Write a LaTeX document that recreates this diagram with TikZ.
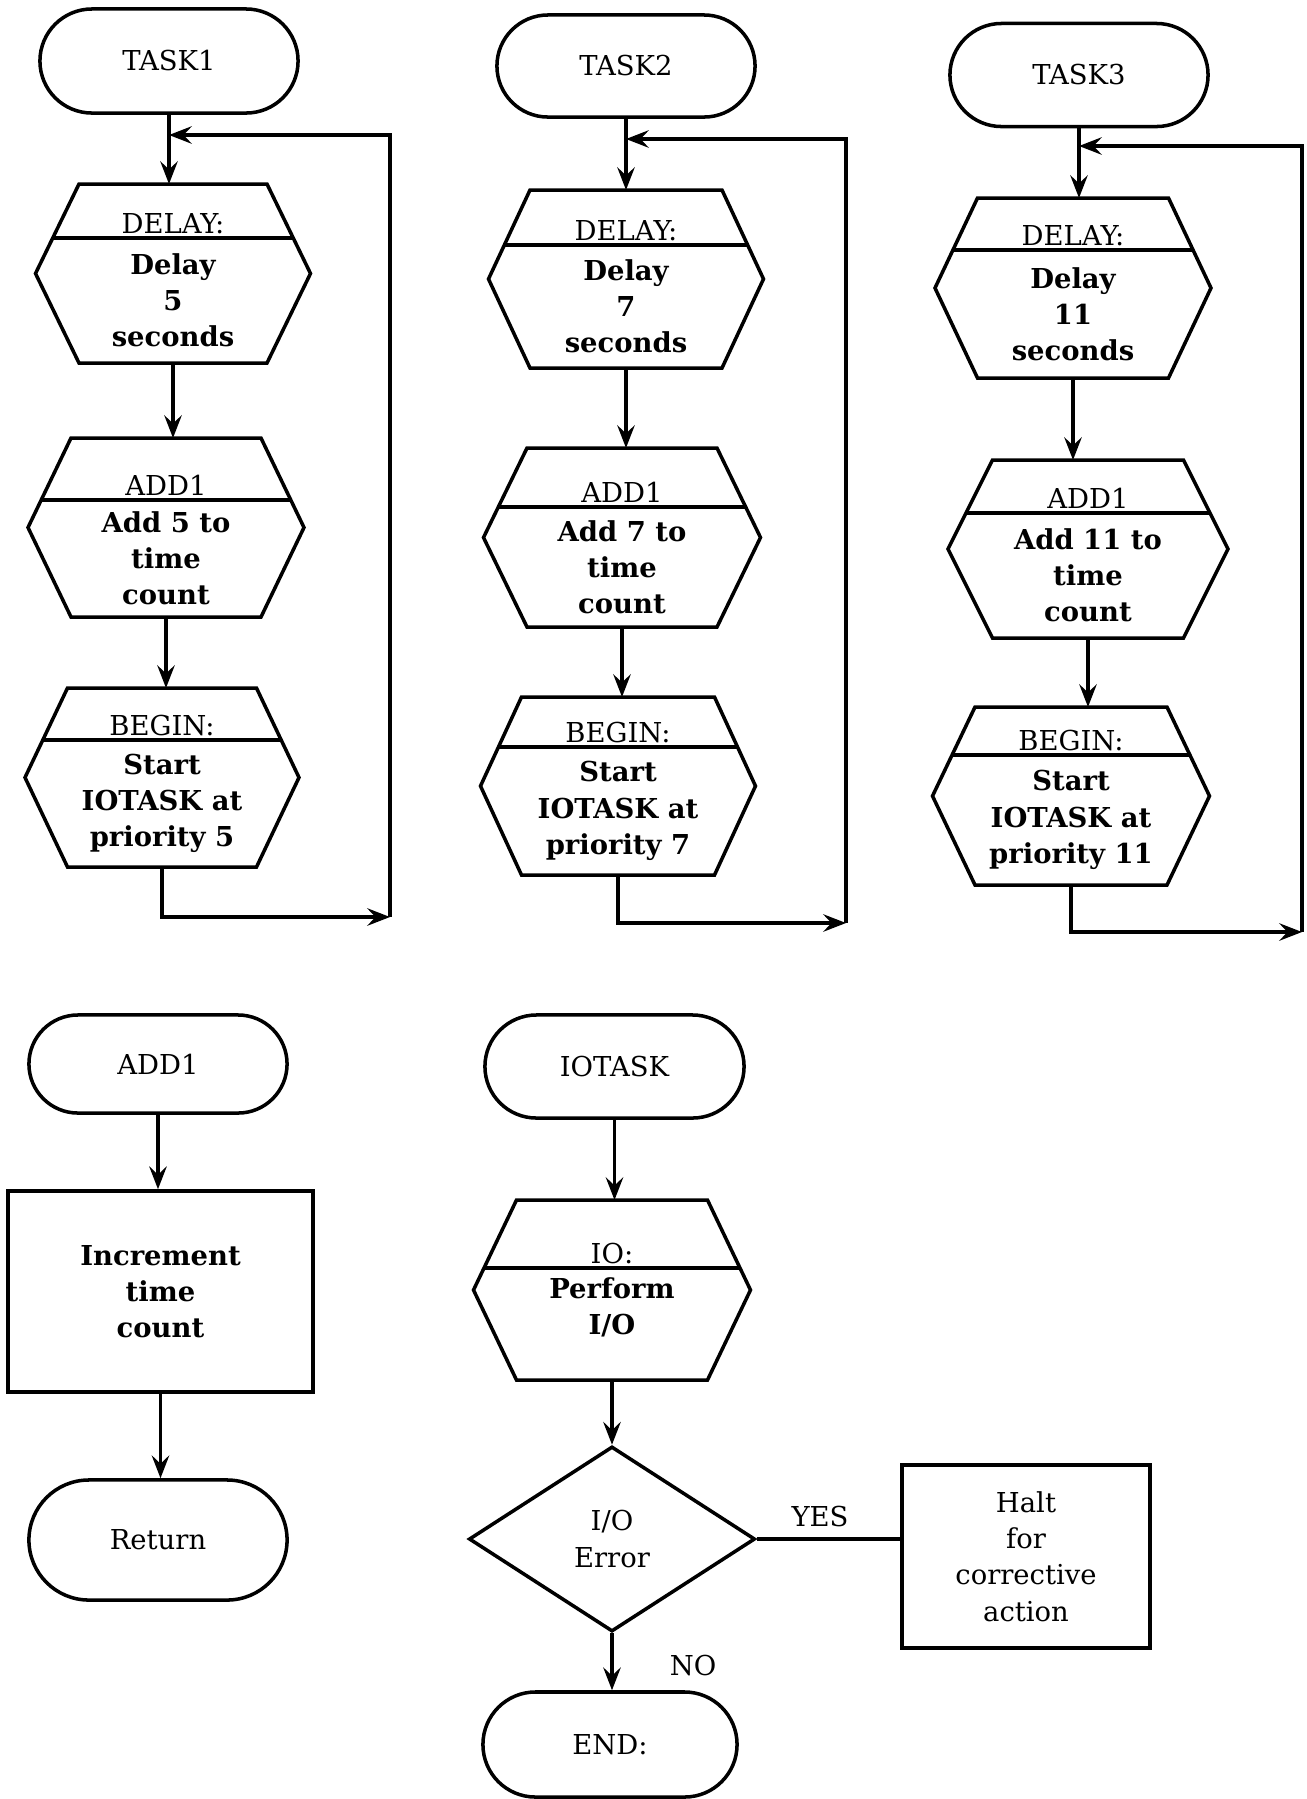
\documentclass[tikz,border=0pt]{standalone}
\usepackage{fontspec}
\setmainfont{DejaVu Serif}
\usetikzlibrary{shapes.geometric,shapes.misc,arrows.meta,calc}

\tikzset{
  basefont/.style={font=\fontsize{7.8}{10.3}\selectfont},
  shapeline/.style={line width=1pt, line join=miter},
  link/.style={line width=0.9pt},
  arr/.style={line width=0.9pt, -{Stealth[length=6.5pt,width=5pt,inset=2.4pt]}},
  term/.style={rounded rectangle, draw, line width=1pt, inner sep=0pt, basefont},
  hexframe/.style={rectangle, inner sep=0pt, outer sep=0pt},
  headtext/.style={anchor=base, inner sep=0pt, basefont},
  bodytext/.style={align=center, inner sep=0pt, font=\fontsize{7.8}{10.3}\selectfont\bfseries},
  procbox/.style={rectangle, draw, line width=1pt, inner sep=0pt, align=center},
  lbl/.style={inner sep=0pt, basefont},
}

% name, cx, top, bottom, half top width, half middle width, divider y, head, body
\def\hexbodyshift{0}
\newcommand{\hexbox}[9]{%
  \pgfmathsetmacro\hxm{(#3+#4)/2}%
  \pgfmathsetmacro\hxh{#4-#3}%
  \pgfmathsetmacro\hxw{2*#6}%
  \pgfmathsetmacro\hxd{#5+(#6-#5)*(#7-#3)/(\hxm-#3)}%
  \pgfmathsetmacro\hxb{(#7+#4)/2+\hexbodyshift}%
  \node[hexframe, minimum width=\hxw*0.01cm, minimum height=\hxh*0.01cm] (#1) at (#2,\hxm) {};
  \draw[shapeline] (#2-#5,#3) -- (#2+#5,#3) -- (#2+#6,\hxm) -- (#2+#5,#4)
     -- (#2-#5,#4) -- (#2-#6,\hxm) -- cycle;
  \draw[shapeline] (#2-\hxd,#7) -- (#2+\hxd,#7);
  \node[headtext] (#1-head) at (#2,#7-5) {#8};
  \node[bodytext] (#1-body) at (#2,\hxb) {#9};
}

\begin{document}
\begin{tikzpicture}[x=0.01cm,y=-0.01cm]
\useasboundingbox (0,0) rectangle (1307,1799);

% ---------- column 1 ----------
\node[term, minimum width=2.58cm, minimum height=1.04cm] (T1) at (169,61) {TASK1};
\hexbox{D1}{173}{184}{363}{94}{137.5}{238}{DELAY:}{Delay\\5\\seconds}
\hexbox{A1}{166}{438}{617}{95}{138}{500}{ADD1}{Add 5 to\\time\\count}
\hexbox{B1}{162}{688}{867}{94.5}{137}{740}{BEGIN:}{Start\\IOTASK at\\priority 5}
\coordinate (J1) at (169,135);
\coordinate (R1t) at (390,135);
\coordinate (R1b) at (390,917);
\draw[arr] (T1.south) -- (T1.south |- D1.north);
\draw[arr] (D1.south) -- (D1.south |- A1.north);
\draw[arr] (A1.south) -- (A1.south |- B1.north);
\draw[arr] (B1.south) |- (R1b);
\draw[arr] (R1b) -- (R1t) -- (J1);

% ---------- column 2 ----------
\node[term, minimum width=2.58cm, minimum height=1.02cm] (T2) at (626,66) {TASK2};
\hexbox{D2}{626}{190}{368}{96}{137.5}{245}{DELAY:}{Delay\\7\\seconds}
\hexbox{A2}{622}{448}{627}{95}{138.5}{507}{ADD1}{Add 7 to\\time\\count}
\hexbox{B2}{618}{697}{875}{96.5}{137.5}{747}{BEGIN:}{Start\\IOTASK at\\priority 7}
\coordinate (J2) at (626,139);
\coordinate (R2t) at (846,139);
\coordinate (R2b) at (846,923);
\draw[arr] (T2.south) -- (T2.south |- D2.north);
\draw[arr] (D2.south) -- (D2.south |- A2.north);
\draw[arr] (A2.south) -- (A2.south |- B2.north);
\draw[arr] (B2.south) |- (R2b);
\draw[arr] (R2b) -- (R2t) -- (J2);

% ---------- column 3 ----------
\node[term, minimum width=2.58cm, minimum height=1.03cm] (T3) at (1079,75) {TASK3};
\hexbox{D3}{1073}{198}{378}{95.5}{138}{250}{DELAY:}{Delay\\11\\seconds}
\hexbox{A3}{1088}{460}{638}{95.5}{140}{513}{ADD1}{Add 11 to\\time\\count}
\hexbox{B3}{1071}{707}{885}{96}{138.5}{755}{BEGIN:}{Start\\IOTASK at\\priority 11}
\coordinate (J3) at (1079,146);
\coordinate (R3t) at (1302,146);
\coordinate (R3b) at (1302,932);
\draw[arr] (T3.south) -- (T3.south |- D3.north);
\draw[arr] (D3.south) -- (D3.south |- A3.north);
\draw[arr] (A3.south) -- (A3.south |- B3.north);
\draw[arr] (B3.south) |- (R3b);
\draw[arr] (R3b) -- (R3t) -- (J3);

% ---------- ADD1 subroutine ----------
\node[term, minimum width=2.58cm, minimum height=0.98cm] (ADDT) at (158,1064) {ADD1};
\node[procbox, minimum width=3.05cm, minimum height=2.01cm,
      font=\fontsize{7.8}{10.3}\selectfont\bfseries] (INC) at (160.5,1291.5) {Increment\\time\\count};
\node[term, minimum width=2.58cm, minimum height=1.2cm] (RET) at (158,1540) {Return};
\draw[arr] (ADDT.south) -- (ADDT.south |- INC.north);
\draw[arr] (INC.south) -- (INC.south |- RET.north);

% ---------- IOTASK ----------
\node[term, minimum width=2.59cm, minimum height=1.03cm] (IOT) at (614.5,1066.5) {IOTASK};
\def\hexbodyshift{-17}
\hexbox{IO}{612}{1200}{1380}{95.5}{138.5}{1268}{IO:}{Perform\\I/O}
\def\hexbodyshift{0}
\node[diamond, draw, shapeline, aspect=1.546, minimum width=2.86cm, minimum height=1.85cm,
      inner sep=0pt, align=center, basefont] (DEC) at (612,1539) {I/O\\Error};
\node[procbox, minimum width=2.48cm, minimum height=1.83cm, basefont] (HALT) at (1026,1556.5)
      {Halt\\for\\corrective\\action};
\node[term, minimum width=2.54cm, minimum height=1.05cm] (END) at (610,1744.5) {END:};
\draw[arr] (IOT.south) -- (IOT.south |- IO.north);
\draw[arr] (IO.south) -- (IO.south |- DEC.north);
\draw[arr] (DEC.south) -- (DEC.south |- END.north);
\draw[link] (DEC.east) -- (DEC.east -| HALT.west);
\node[lbl] (YES) at (820,1516) {YES};
\node[lbl] (NO) at (693,1665) {NO};
\end{tikzpicture}
\end{document}
